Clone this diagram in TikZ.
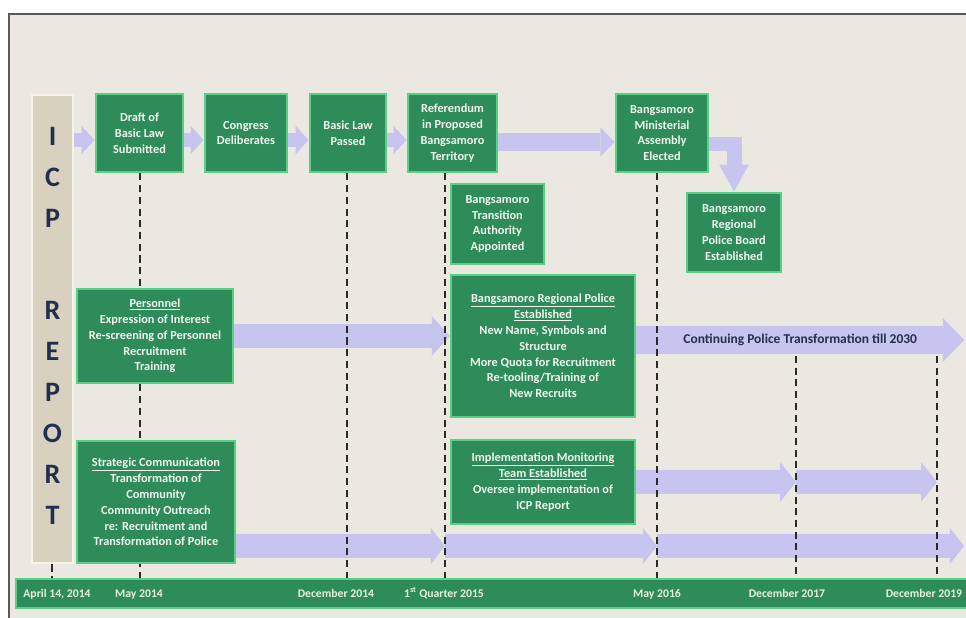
\documentclass[tikz,border=0pt]{standalone}
\usepackage{fontspec}
\setmainfont{Carlito}
\usetikzlibrary{arrows.meta}

\pgfdeclarelayer{back}
\pgfdeclarelayer{flow}
\pgfdeclarelayer{marks}
\pgfsetlayers{back,flow,marks,main}

\definecolor{panel}{HTML}{EAE8E0}
\definecolor{framegrey}{HTML}{5A5A5A}
\definecolor{boxfill}{HTML}{2E8B5A}
\definecolor{boxedge}{HTML}{5CCF86}
\definecolor{boxtext}{HTML}{F2F7F0}
\definecolor{flowcol}{HTML}{C7C5F0}
\definecolor{icpfill}{HTML}{D9D1BF}
\definecolor{icpedge}{HTML}{F6F3EA}
\definecolor{navy}{HTML}{23304D}
\definecolor{dashgrey}{HTML}{2A2A2A}
\definecolor{datetext}{HTML}{EAF2DC}

\tikzset{
  stage/.style={draw=boxedge, line width=2.5pt, fill=boxfill, text=boxtext, align=center, inner sep=1pt,
    font=\bfseries\fontsize{10.5}{13.5}\selectfont},
  icpbar/.style={draw=icpedge, line width=2.5pt, fill=icpfill},
  icpletter/.style={text=navy, font=\bfseries\fontsize{24}{28}\selectfont, inner sep=0pt},
  timeline/.style={draw=boxedge, line width=2.5pt, fill=boxfill},
  date/.style={text=datetext, font=\bfseries\fontsize{10}{12}\selectfont, inner sep=0pt, anchor=base},
  datedash/.style={draw=dashgrey, line width=2pt, dash pattern=on 6pt off 4pt},
  toparrow/.style={draw=flowcol, line width=12.8pt, -{Triangle[width=24pt,length=11pt,line width=0pt]}},
  longarrow/.style={draw=flowcol, line width=16pt, -{Triangle[width=25pt,length=12pt,line width=0pt]}},
  bendarrow/.style={draw=flowcol, line width=12.8pt, -{Triangle[width=25.5pt,length=23pt,line width=0pt]}},
  midarrow/.style={draw=flowcol, line width=20.4pt, -{Triangle[width=34pt,length=15pt,line width=0pt]}},
  wayarrow/.style={draw=flowcol, line width=24.7pt, -{Triangle[width=37.4pt,length=18pt,line width=0pt]}},
  imtarrow/.style={draw=flowcol, line width=20.4pt, -{Triangle[width=34pt,length=13.6pt,line width=0pt]}},
  lowarrow/.style={draw=flowcol, line width=21.3pt, -{Triangle[width=30.6pt,length=12pt,line width=0pt]}},
  waytext/.style={text=navy, font=\bfseries\fontsize{11.5}{13}\selectfont, inner sep=0pt}
}

\begin{document}
\begin{tikzpicture}[x=0.03cm, y=-0.03cm]
\useasboundingbox (0,0) rectangle (966,618);

\begin{pgfonlayer}{back}
\fill[white] (0,0) rectangle (966,618); %page
\fill[panel] (9,14) rectangle (966,618); %slide
\draw[framegrey, line width=1.2pt] (9,618) -- (9,14) -- (966,14); %slide edge
\end{pgfonlayer}

% rows and date marks
\coordinate (r1) at (0,140);
\coordinate (r2) at (0,142);
\coordinate (r3) at (0,144);
\coordinate (r4) at (0,340);
\coordinate (r5) at (0,546);
\coordinate (r6) at (0,356);
\coordinate (tend) at (964,0);
\foreach \x [count=\i] in {52,140,347,445,657,796,937}
  \coordinate (t\i) at (\x,579);

% ICP REPORT bar
\node[icpbar, minimum width=1.23cm, minimum height=14.04cm] (icp) at (52.5,329) {};
\foreach \ch/\yy [count=\i] in {I/136, C/177, P/218, R/310, E/351, P/392, O/433, R/474, T/515}
  \node[icpletter] (L\i) at (52.5,\yy) {\ch};

% top row
\node[stage, minimum width=2.61cm, minimum height=2.34cm] (draft) at (139.5,133) {Draft of\\Basic Law\\Submitted};
\node[stage, minimum width=2.46cm, minimum height=2.34cm] (congress) at (246,133) {Congress\\Deliberates};
\node[stage, minimum width=2.28cm, minimum height=2.34cm] (passed) at (348,133) {Basic Law\\Passed};
\node[stage, minimum width=2.67cm, minimum height=2.34cm] (referendum) at (452.5,133) {Referendum\\in Proposed\\Bangsamoro\\Territory};
\node[stage, minimum width=2.79cm, minimum height=2.40cm] (transition) at (497.5,224) {Bangsamoro\\Transition\\Authority\\Appointed};
\node[stage, minimum width=2.76cm, minimum height=2.34cm] (assembly) at (662,133) {Bangsamoro\\Ministerial\\Assembly\\Elected};
\node[stage, minimum width=2.82cm, minimum height=2.37cm] (board) at (734,232.5) {Bangsamoro\\Regional\\Police Board\\Established};

% middle and lower rows
\node[stage, minimum width=4.68cm, minimum height=2.82cm] (personnel) at (155,336)
  {\underline{Personnel}\\Expression of Interest\\Re-screening of Personnel\\Recruitment\\Training};
\node[stage, minimum width=5.52cm, minimum height=4.26cm] (police) at (543,346)
  {\underline{Bangsamoro Regional Police}\\\underline{Established}\\New Name, Symbols and\\Structure\\More Quota for Recruitment\\Re-tooling/Training of\\New Recruits};
\node[stage, minimum width=4.74cm, minimum height=3.66cm] (strategic) at (156,502)
  {\underline{Strategic Communication}\\Transformation of\\Community\\Community Outreach\\re: Recruitment and\\Transformation of Police};
\node[stage, minimum width=5.52cm, minimum height=2.52cm] (monitoring) at (543,482)
  {\underline{Implementation Monitoring}\\\underline{Team Established}\\Oversee implementation of\\ICP Report};

% time line
\node[timeline, minimum width=28.92cm, minimum height=0.87cm] (tl) at (498,593.5) {};
\node[date] (d1) at (57,597) {April 14, 2014};
\node[date] (d2) at (139,597) {May 2014};
\node[date] (d3) at (336,597) {December 2014};
\node[date] (d4) at (444,597) {1\textsuperscript{st} Quarter 2015};
\node[date] (d5) at (657,597) {May 2016};
\node[date] (d6) at (787,597) {December 2017};
\node[date] (d7) at (924,597) {December 2019};

\begin{pgfonlayer}{flow}
\draw[toparrow] (icp.east |- r1) -- (draft.west |- r1);
\draw[toparrow] (draft.east |- r1) -- (congress.west |- r1);
\draw[toparrow] (congress.east |- r1) -- (passed.west |- r1);
\draw[toparrow] (passed.east |- r1) -- (referendum.west |- r1);
\draw[longarrow] (referendum.east |- r2) -- (assembly.west |- r2);
\draw[bendarrow] (assembly.east |- r3) -| (board.north);
\draw[midarrow] (personnel.east) -- (personnel.east -| police.west);
\draw[wayarrow] (police.east |- r4) -- (r4 -| tend)
  node[midway, waytext] (way) {Continuing Police Transformation till 2030};
\draw[imtarrow] (monitoring.east) -- (monitoring.east -| t6);
\draw[imtarrow] (monitoring.east -| t6) -- (monitoring.east -| t7);
\draw[lowarrow] (strategic.east |- r5) -- (r5 -| t4);
\draw[lowarrow] (r5 -| t4) -- (r5 -| t5);
\draw[lowarrow] (r5 -| t5) -- (r5 -| tend);
\end{pgfonlayer}

\begin{pgfonlayer}{marks}
\draw[datedash] (t1 |- icp.south) -- (t1); %April 14, 2014
\draw[datedash] (t2 |- draft.south) -- (t2);
\draw[datedash] (t3 |- passed.south) -- (t3);
\draw[datedash] (t4 |- referendum.south) -- (t4);
\draw[datedash] (t5 |- assembly.south) -- (t5);
\draw[datedash] (t6 |- r6) -- (t6);
\draw[datedash] (t7 |- r6) -- (t7);
\end{pgfonlayer}
\end{tikzpicture}
\end{document}
